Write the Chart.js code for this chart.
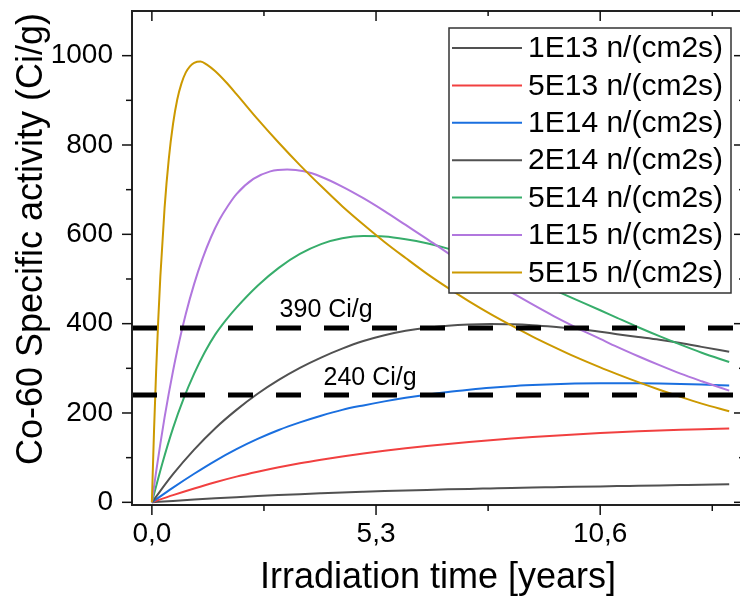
<!DOCTYPE html>
<html><head><meta charset="utf-8">
<script src="https://cdn.jsdelivr.net/npm/chart.js@4.4.1/dist/chart.umd.min.js"></script>
<style>
html,body{margin:0;padding:0;background:#fff;overflow:hidden;width:740px;height:602px;}
#wrap{position:absolute;left:0;top:0;width:750px;height:602px;}
</style></head><body>
<div id="wrap"><canvas id="c" width="750" height="602"></canvas></div>
<script>
// ---------- data ----------
const seriesLabels = ['1E13 n/(cm2s)','5E13 n/(cm2s)','1E14 n/(cm2s)','2E14 n/(cm2s)','5E14 n/(cm2s)','1E15 n/(cm2s)','5E15 n/(cm2s)'];
const seriesColors = ['#515151','#F14040','#1A6FDF','#515151','#37AD6B','#B177DE','#CC9900'];

const tCommon = [0,0.5,1,1.5,2,2.5,3,3.5,4,4.5,5,5.5,6,6.5,7,7.5,8,8.5,9,9.5,10,10.6,11,11.5,12,12.5,13,13.65];
const v1E13 = [0,3.2,6.2,9,11.6,14,16.2,18.3,20.2,22,23.6,25.1,26.5,27.8,29,30.1,31.1,32.1,33,33.8,34.6,35.6,36.3,37.1,37.9,38.7,39.5,40.5];
const v5E13 = [0,16,31,45,57.5,68.5,78.5,87.5,95.5,102.8,109.4,115.4,120.9,126,130.7,135,139,142.7,146.1,149.2,152,155.1,156.9,158.9,160.7,162.3,163.7,165.3];
const v1E14 = [0,33,64,93,119,142,162,179,194,207,217,226,234,241,247,252,256.5,260,262.5,264.5,265.8,266.6,266.8,266.6,266,265,263.6,261.5];
const v2E14 = [0,63,118,166,207,243,274,301,324,344,361,374,384,391,395.5,398,399,398.5,396.5,393,388.5,382,376.5,370.3,364,356.5,348,337];

const t5E14 = [0,0.25,0.5,0.75,1,1.25,1.5,1.75,2,2.5,3,3.5,4,4.5,5,5.5,6,6.5,7,7.5,8,8.5,9,9.5,10,10.6,11,11.5,12,12.5,13,13.65];
const v5E14 = [0,88,166,232,288,336,376,408,436,485,525,556,578,591,596,595,589,580,568,553,536,517,497,476,455,430,413,392,372,353,335,314];

const t1E15 = [0,0.1,0.2,0.3,0.4,0.5,0.6,0.8,1,1.2,1.4,1.6,1.8,2,2.4,2.8,3.2,3.6,4,4.5,5,5.5,6,6.5,7,7.5,8,8.5,9,9.5,10,10.6,11,11.5,12,12.5,13,13.65];
const v1E15 = [0,68,131,190,244,294,340,421,489,546,594,633,664,690,724,741,745,741,729,707,681,652,621,590,558,528,498,470,443,417,393,366,348,327,307,288,271,250];

const t5E15 = [0,0.05,0.1,0.15,0.2,0.3,0.4,0.5,0.6,0.7,0.8,0.9,1,1.15,1.3,1.5,1.75,2,2.5,3,3.5,4,4.5,5,5.5,6,6.5,7,7.5,8,8.5,9,9.5,10,10.6,11,11.5,12,12.5,13,13.65];
const v5E15 = [0,158,292,407,505,659,769,847,902,938,962,976,984,987,980,965,941,914,858,805,755,708,663,622,583,547,512,480,450,422,396,371,348,326,302,287,269,252,236,221,204];

const seriesTimes  = [tCommon,tCommon,tCommon,tCommon,t5E14,t1E15,t5E15];
const seriesValues = [v1E13,v5E13,v1E14,v2E14,v5E14,v1E15,v5E15];

const xMin = -0.47, xMax = 14.0, yMin = -6, yMax = 1100;
const xTickValues = [0, 5.3, 10.6];
const xTickLabels = ['0,0', '5,3', '10,6'];
const xMinorTicks = [2.65, 7.95, 13.25];
const yTickValues = [0, 200, 400, 600, 800, 1000];
const yMinorTicks = [100, 300, 500, 700, 900];
const refLevels = [390, 240];
const refLabels = ['390 Ci/g', '240 Ci/g'];
const refLabelAt = [[4.12, 415], [5.16, 263]];
const xTitle = 'Irradiation time [years]';
const yTitle = 'Co-60 Specific activity (Ci/g)';

// ---------- styles ----------
const FAMILY = '"Liberation Sans", Arial, Helvetica, sans-serif';
const TICK_SIZE = 28, TITLE_SIZE = 36, LEGEND_SIZE = 30, ANN_SIZE = 25;
const legendBox = {left: 449, top: 28, right: 731, bottom: 293, firstRow: 48, rowStep: 37.4, lineX0: 452, lineX1: 522, textX: 528};

const datasets = seriesLabels.map((lab, i) => ({
  label: lab,
  data: seriesTimes[i].map((t, k) => ({x: t, y: seriesValues[i][k]})),
  borderColor: seriesColors[i],
  borderWidth: 2,
  pointRadius: 0,
  fill: false,
  cubicInterpolationMode: 'monotone',
  order: seriesLabels.length - 1 - i
}));
refLevels.forEach(lv => datasets.push({
  label: 'ref' + lv,
  data: [{x: xMin, y: lv}, {x: xMax, y: lv}],
  borderColor: '#000', borderWidth: 5, borderDash: [25, 23], borderCapStyle: 'butt',
  pointRadius: 0, fill: false, order: -1
}));

const overlay = {
  id: 'overlay',
  afterDatasetsDraw(chart) {
    const {ctx, scales: {x, y}} = chart;
    ctx.save();
    ctx.fillStyle = '#000';
    ctx.font = ANN_SIZE + 'px ' + FAMILY;
    ctx.textAlign = 'center';
    ctx.textBaseline = 'alphabetic';
    refLabels.forEach((s, i) => ctx.fillText(s, x.getPixelForValue(refLabelAt[i][0]), y.getPixelForValue(refLabelAt[i][1])));
    const L = legendBox;
    ctx.fillStyle = '#fff';
    ctx.fillRect(L.left, L.top, L.right - L.left, L.bottom - L.top);
    ctx.strokeStyle = '#333';
    ctx.lineWidth = 1.5;
    ctx.strokeRect(L.left, L.top, L.right - L.left, L.bottom - L.top);
    ctx.font = LEGEND_SIZE + 'px ' + FAMILY;
    ctx.textAlign = 'left';
    ctx.textBaseline = 'middle';
    seriesLabels.forEach((lab, i) => {
      const yy = L.firstRow + i * L.rowStep;
      ctx.strokeStyle = seriesColors[i];
      ctx.lineWidth = 2;
      ctx.beginPath(); ctx.moveTo(L.lineX0, yy); ctx.lineTo(L.lineX1, yy); ctx.stroke();
      ctx.fillStyle = '#000';
      ctx.fillText(lab, L.textX, yy + 1);
    });
    ctx.restore();
  },
  afterDraw(chart) {
    const {ctx, chartArea: a, scales: {x, y}} = chart;
    ctx.save();
    ctx.strokeStyle = '#222';
    ctx.lineWidth = 2;
    ctx.strokeRect(a.left, a.top, a.right - a.left, a.bottom - a.top);
    ctx.lineWidth = 1.5;
    ctx.strokeStyle = '#111';
    const seg = (x0, y0, x1, y1) => { ctx.beginPath(); ctx.moveTo(x0, y0); ctx.lineTo(x1, y1); ctx.stroke(); };
    xTickValues.forEach(v => { const p = x.getPixelForValue(v); seg(p, a.bottom, p, a.bottom + 10); seg(p, a.top, p, a.top + 10); });
    xMinorTicks.forEach(v => { const p = x.getPixelForValue(v); seg(p, a.bottom, p, a.bottom + 6); seg(p, a.top, p, a.top + 5); });
    yTickValues.forEach(v => { const p = y.getPixelForValue(v); seg(a.left - 10, p, a.left, p); seg(a.right - 10, p, a.right, p); });
    yMinorTicks.forEach(v => { const p = y.getPixelForValue(v); seg(a.left - 6, p, a.left, p); seg(a.right - 5, p, a.right, p); });
    ctx.fillStyle = '#000';
    ctx.font = TITLE_SIZE + 'px ' + FAMILY;
    ctx.textAlign = 'center';
    ctx.textBaseline = 'middle';
    ctx.fillText(xTitle, (a.left + a.right) / 2, 578);
    ctx.translate(32, 239);
    ctx.rotate(-Math.PI / 2);
    ctx.fillText(yTitle, 0, 0);
    ctx.restore();
  }
};

const zeroPad = s => { s.paddingTop = 0; s.paddingBottom = 0; s.paddingLeft = 0; s.paddingRight = 0; };

new Chart(document.getElementById('c'), {
  type: 'line',
  data: {datasets},
  options: {
    responsive: false,
    animation: false,
    devicePixelRatio: 1,
    layout: {padding: {left: 0, top: 11, right: 6, bottom: 0}},
    plugins: {legend: {display: false}, tooltip: {enabled: false}},
    scales: {
      x: {
        type: 'linear', min: xMin, max: xMax,
        border: {display: false},
        grid: {display: false, drawTicks: false},
        afterBuildTicks: s => { s.ticks = xTickValues.map(v => ({value: v})); },
        afterFit: s => { s.height = 97; zeroPad(s); },
        ticks: {autoSkip: false, maxRotation: 0, padding: 12, color: '#000',
          font: {family: FAMILY, size: TICK_SIZE},
          callback: (v, i) => xTickLabels[i]}
      },
      y: {
        type: 'linear', min: yMin, max: yMax,
        border: {display: false},
        grid: {display: false, drawTicks: false},
        afterBuildTicks: s => { s.ticks = yTickValues.map(v => ({value: v})); },
        afterFit: s => { s.width = 132; zeroPad(s); },
        ticks: {autoSkip: false, padding: 19, color: '#000',
          font: {family: FAMILY, size: TICK_SIZE},
          callback: v => String(v)}
      }
    }
  },
  plugins: [overlay]
});
</script>
</body></html>
